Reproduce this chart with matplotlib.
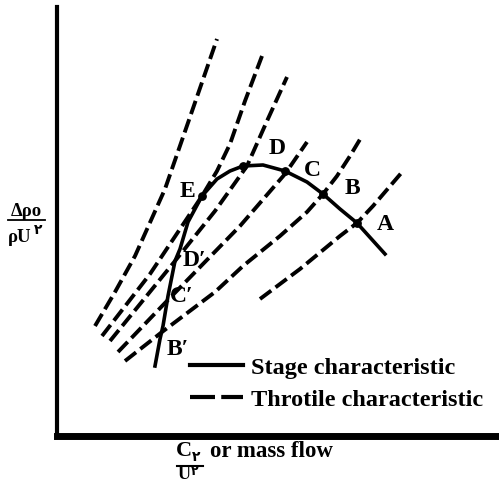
import matplotlib.pyplot as plt
from matplotlib.lines import Line2D

W, H = 499, 485

# stage characteristic (solid curve)
stage_x = [98, 103, 106, 111, 118, 123, 131, 145, 160, 173, 186, 206, 228, 250, 266, 283, 300, 328]
stage_y = [70, 97, 110, 140, 175, 187, 214, 240, 257, 265, 270, 271, 265, 254, 242, 227, 213, 182]

# throttle characteristics (dashed curves)
thr1_x = [38, 58, 78, 108, 133, 160]
thr1_y = [110, 144, 180, 247, 319, 397]
thr2_x = [45, 93, 145, 160, 173, 188, 205]
thr2_y = [100, 162, 240, 265, 292, 335, 380]
thr3_x = [53, 118, 158, 190, 210, 230]
thr3_y = [95, 175, 225, 270, 315, 359]
thr4_x = [61, 108, 183, 228, 250]
thr4_y = [84, 133, 210, 262, 294]
thr5_x = [68, 105, 158, 186, 223, 250, 266, 280, 293, 305]
thr5_y = [75, 104, 144, 170, 200, 224, 242, 260, 280, 300]
thrA_x = [203, 243, 283, 300, 316, 346]
thrA_y = [137, 167, 200, 213, 230, 265]

# operating points on the stage curve
op_x = [145, 186, 228, 266, 300]
op_y = [240, 270, 265, 242, 213]

point_labels = ["E", "D", "C", "B", "A", "D\u2032", "C\u2032", "B\u2032"]
label_px = [(187, 192), (277, 148), (312, 171), (352, 189), (385, 225),
            (194, 261), (182, 297), (178, 350)]

FAM = ["Liberation Serif", "DejaVu Sans"]


def px(x, y):
    return x / W, 1 - y / H


fig = plt.figure(figsize=(W / 100, H / 100), dpi=100)
ax = fig.add_axes([57 / W, 48 / H, (W - 57) / W, (437 - 8) / H])
ax.set_xlim(0, W - 57)
ax.set_ylim(0, 437 - 8)
ax.set_xticks([])
ax.set_yticks([])
ax.spines["top"].set_visible(False)
ax.spines["right"].set_visible(False)
ax.spines["left"].set_linewidth(3)
ax.spines["bottom"].set_linewidth(5)

dash = (0, (3.6, 1.4))
for xs, ys in [(thr1_x, thr1_y), (thr2_x, thr2_y), (thr3_x, thr3_y),
               (thr4_x, thr4_y), (thr5_x, thr5_y), (thrA_x, thrA_y)]:
    ax.plot(xs, ys, color="black", lw=2.8, linestyle=dash, dash_capstyle="butt")

ax.plot(stage_x, stage_y, color="black", lw=2.6, solid_joinstyle="round")
ax.scatter(op_x, op_y, s=28, color="black", zorder=3)

for lab, (x, y) in zip(point_labels, label_px):
    fig.text(*px(x, y), lab, ha="center", va="center", fontsize=17,
             fontweight="bold", family=FAM)

# legend
handles = [Line2D([], [], color="black", lw=3),
           Line2D([], [], color="black", lw=3, linestyle=(0, (6, 1.5)))]
fig.legend(handles, ["Stage characteristic", "Throtile characteristic"],
           loc="upper left", bbox_to_anchor=px(190, 357), frameon=False,
           borderpad=0, borderaxespad=0, handlelength=2.2, handletextpad=0.3,
           labelspacing=0.42, prop={"family": FAM, "weight": "bold", "size": 17.5})

# y label as fraction
fig.text(*px(26, 211), "\u0394\u03c1o", ha="center", va="center", fontsize=13.5,
         fontweight="bold", family=FAM)
fig.add_artist(Line2D([8 / W, 45 / W], [1 - 221 / H] * 2, color="black", lw=1.3))
fig.text(*px(20, 237), "\u03c1U", ha="center", va="center", fontsize=13.5,
         fontweight="bold", family=FAM)
fig.text(*px(38, 231), "\u06f2", ha="center", va="center", fontsize=10,
         fontweight="bold", family=FAM)

# x label as fraction
fig.text(*px(184, 451), "C", ha="center", va="center", fontsize=16,
         fontweight="bold", family=FAM)
fig.text(*px(196, 458), "\u06f2", ha="center", va="center", fontsize=10,
         fontweight="bold", family=FAM)
fig.add_artist(Line2D([177 / W, 203 / W], [1 - 467 / H] * 2, color="black", lw=1.5))
fig.text(*px(184, 475), "U", ha="center", va="center", fontsize=13,
         fontweight="bold", family=FAM)
fig.text(*px(195, 472), "\u06f2", ha="center", va="center", fontsize=9,
         fontweight="bold", family=FAM)
fig.text(*px(210, 452), "or mass flow", ha="left", va="center", fontsize=16.5,
         fontweight="bold", family=FAM)

fig.savefig("out.png", dpi=100)
